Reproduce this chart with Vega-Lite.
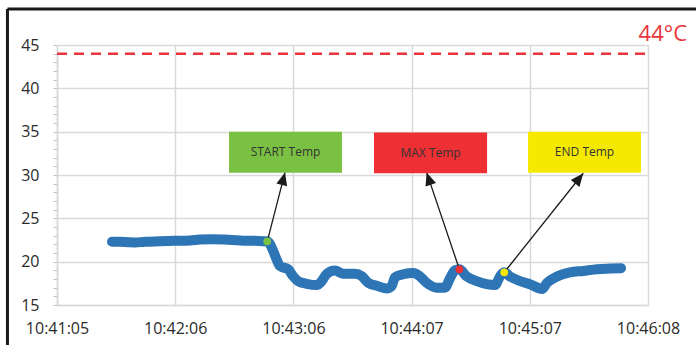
{
  "$schema": "https://vega.github.io/schema/vega-lite/v6.json",
  "width": 591,
  "height": 260,
  "autosize": {"type": "none"},
  "padding": {"left": 57, "top": 45, "right": 48, "bottom": 40},
  "background": "white",
  "config": {"view": {"stroke": null}},
  "datasets": {
    "temps": [
      {"t": 28.2, "v": 22.3}, {"t": 32.3, "v": 22.3}, {"t": 36.4, "v": 22.25}, {"t": 40.0, "v": 22.2},
      {"t": 45.1, "v": 22.3}, {"t": 52.8, "v": 22.35}, {"t": 60.5, "v": 22.4}, {"t": 68.2, "v": 22.45},
      {"t": 73.3, "v": 22.55}, {"t": 80.0, "v": 22.6}, {"t": 86.1, "v": 22.55}, {"t": 93.8, "v": 22.45},
      {"t": 101.5, "v": 22.4}, {"t": 107.8, "v": 22.35}, {"t": 110.9, "v": 21.2}, {"t": 112.6, "v": 20.25},
      {"t": 114.3, "v": 19.5}, {"t": 118.6, "v": 19.1}, {"t": 121.1, "v": 18.3}, {"t": 123.7, "v": 17.75},
      {"t": 128.0, "v": 17.45}, {"t": 133.1, "v": 17.3}, {"t": 135.7, "v": 17.75}, {"t": 138.3, "v": 18.6},
      {"t": 142.5, "v": 18.98}, {"t": 146.8, "v": 18.6}, {"t": 152.8, "v": 18.6}, {"t": 156.2, "v": 18.33},
      {"t": 159.6, "v": 17.56}, {"t": 164.7, "v": 17.17}, {"t": 169.0, "v": 16.9}, {"t": 171.6, "v": 17.2},
      {"t": 173.3, "v": 18.2}, {"t": 177.5, "v": 18.55}, {"t": 182.7, "v": 18.7}, {"t": 186.1, "v": 18.3},
      {"t": 189.5, "v": 17.55}, {"t": 194.7, "v": 17.0}, {"t": 198.9, "v": 17.0}, {"t": 201.5, "v": 18.1},
      {"t": 204.0, "v": 19.0}, {"t": 206.3, "v": 19.12}, {"t": 210.0, "v": 18.3}, {"t": 215.2, "v": 17.75},
      {"t": 220.3, "v": 17.4}, {"t": 224.6, "v": 17.3}, {"t": 227.1, "v": 18.3}, {"t": 229.3, "v": 18.77},
      {"t": 232.2, "v": 18.3}, {"t": 237.4, "v": 17.75}, {"t": 242.5, "v": 17.4}, {"t": 248.7, "v": 16.85},
      {"t": 251.2, "v": 17.55}, {"t": 256.4, "v": 18.3}, {"t": 263.0, "v": 18.77}, {"t": 269.7, "v": 18.93},
      {"t": 276.9, "v": 19.12}, {"t": 283.5, "v": 19.2}, {"t": 289.2, "v": 19.25}
    ],
    "markers": [
      {"kind": "START", "t": 107.8, "v": 22.35},
      {"kind": "MAX", "t": 206.3, "v": 19.12},
      {"kind": "END", "t": 229.3, "v": 18.77}
    ],
    "boxes": [
      {"kind": "START", "label": "START Temp", "t": 88.2, "t2": 146.1, "v": 35.0, "v2": 30.25},
      {"kind": "MAX", "label": "MAX Temp", "t": 162.5, "t2": 220.5, "v": 34.9, "v2": 30.2},
      {"kind": "END", "label": "END Temp", "t": 241.5, "t2": 299.4, "v": 35.0, "v2": 30.25}
    ],
    "arrows": [
      {"kind": "START", "t": 107.8, "v": 22.35, "t2": 116.9, "v2": 30.3},
      {"kind": "MAX", "t": 206.3, "v": 19.12, "t2": 189.5, "v2": 30.3},
      {"kind": "END", "t": 229.3, "v": 18.77, "t2": 269.8, "v2": 30.2}
    ],
    "threshold": [{"t": 0, "t2": 303, "v": 44, "label": "44°C"}],
    "frame": [
      {"t": -25.4, "v": 9.8, "t2": -25.4, "v2": 49.15},
      {"t": -25.4, "v": 49.15, "t2": 330, "v2": 49.15}
    ]
  },
  "encoding": {
    "x": {
      "field": "t", "type": "quantitative", "title": null,
      "scale": {"domain": [0, 303], "nice": false, "zero": false},
      "axis": {
        "values": [0, 60.6, 121.2, 181.8, 242.4, 303],
        "labelExpr": "['10:41:05','10:42:06','10:43:06','10:44:07','10:45:07','10:46:08'][round(datum.value/60.6)]",
        "ticks": false,
        "domainColor": "#d9d9d9", "domainWidth": 1.5,
        "grid": true, "gridColor": "#d9d9d9", "gridWidth": 1.5,
        "labelFont": "Open Sans", "labelFontSize": 16, "labelColor": "#2b2b2b",
        "labelPadding": 15, "labelFlush": false, "labelOverlap": false
      }
    },
    "y": {
      "field": "v", "type": "quantitative", "title": null,
      "scale": {"domain": [15, 45], "nice": false, "zero": false},
      "axis": {
        "values": [15,16,17,18,19,20,21,22,23,24,25,26,27,28,29,30,31,32,33,34,35,36,37,38,39,40,41,42,43,44,45],
        "labelExpr": "datum.value % 5 === 0 ? datum.label : ''",
        "grid": true, "gridColor": "#d9d9d9", "gridWidth": 1.5,
        "gridOpacity": {"condition": {"test": "datum.value % 5 === 0", "value": 1}, "value": 0},
        "tickSize": 4, "tickColor": "#bfbfbf", "tickWidth": 1,
        "domainColor": "#d9d9d9", "domainWidth": 1.5,
        "labelFont": "Open Sans", "labelFontSize": 16, "labelColor": "#2b2b2b",
        "labelPadding": 14, "labelOverlap": false
      }
    }
  },
  "layer": [
    {
      "data": {"name": "threshold"},
      "mark": {"type": "rule", "color": "#e8343a", "strokeWidth": 2.5, "strokeDash": [10, 7]},
      "encoding": {"x2": {"field": "t2"}}
    },
    {
      "data": {"name": "threshold"},
      "transform": [{"calculate": "datum.t2", "as": "t"}],
      "mark": {"type": "text", "align": "right", "baseline": "middle", "dx": 39, "dy": -20, "font": "Open Sans", "fontSize": 22, "color": "#e8343a"},
      "encoding": {"text": {"field": "label"}}
    },
    {
      "data": {"name": "temps"},
      "mark": {"type": "line", "color": "#2e75b6", "strokeWidth": 10, "strokeCap": "round", "strokeJoin": "round", "interpolate": "monotone"},
      "encoding": {}
    },
    {
      "data": {"name": "arrows"},
      "mark": {"type": "rule", "color": "#1a1a1a", "strokeWidth": 1.3},
      "encoding": {"x2": {"field": "t2"}, "y2": {"field": "v2"}}
    },
    {
      "data": {"name": "arrows"},
      "transform": [
        {"calculate": "atan2((datum.t2-datum.t)*591/303, (datum.v2-datum.v)*260/30)*180/PI", "as": "ang"},
        {"calculate": "datum.t2", "as": "t"},
        {"calculate": "datum.v2", "as": "v"}
      ],
      "mark": {"type": "point", "shape": "M0,0L-0.85,2L0.85,2Z", "size": 169, "filled": true, "opacity": 1, "color": "#1a1a1a"},
      "encoding": {"angle": {"field": "ang", "type": "quantitative", "scale": null}}
    },
    {
      "data": {"name": "markers"},
      "mark": {"type": "circle", "size": 60, "opacity": 1},
      "encoding": {
        "color": {"field": "kind", "type": "nominal", "legend": null,
          "scale": {"domain": ["START", "MAX", "END"], "range": ["#7ac143", "#ee2f34", "#f5e900"]}}
      }
    },
    {
      "data": {"name": "boxes"},
      "mark": {"type": "rect", "opacity": 1},
      "encoding": {
        "x2": {"field": "t2"}, "y2": {"field": "v2"},
        "color": {"field": "kind", "type": "nominal", "legend": null,
          "scale": {"domain": ["START", "MAX", "END"], "range": ["#7ac143", "#ee2f34", "#f5e900"]}}
      }
    },
    {
      "data": {"name": "boxes"},
      "transform": [
        {"calculate": "(datum.t+datum.t2)/2", "as": "t"},
        {"calculate": "(datum.v+datum.v2)/2", "as": "v"}
      ],
      "mark": {"type": "text", "align": "center", "baseline": "middle", "font": "Open Sans", "fontSize": 12, "color": "#333333"},
      "encoding": {"text": {"field": "label"}}
    },
    {
      "data": {"name": "frame"},
      "mark": {"type": "rule", "color": "#1a1a1a", "strokeWidth": 3},
      "encoding": {"x2": {"field": "t2"}, "y2": {"field": "v2"}}
    }
  ]
}
